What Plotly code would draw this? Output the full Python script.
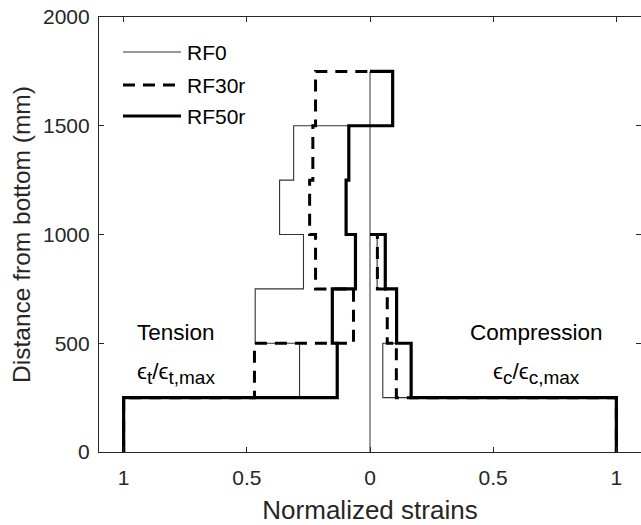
import plotly.graph_objects as go

# Band boundaries (mm from bottom)
heights = [0, 250, 500, 750, 1000, 1250, 1500, 1750]

# Normalized strains per band (bottom band first); tension negative, compression positive
rf0_tension = [-1.0, -0.286, -0.466, -0.270, -0.367, -0.310, 0.0]
rf0_compression = [1.0, 0.052, 0.108, 0.029, 0.0, 0.0, 0.0]
rf30r_tension = [-1.0, -0.469, -0.067, -0.221, -0.245, -0.232, -0.221]
rf30r_compression = [1.0, 0.107, 0.070, 0.030, 0.0, 0.0, 0.0]
rf50r_tension = [-1.0, -0.133, -0.153, -0.059, -0.097, -0.086, 0.0]
rf50r_compression = [1.0, 0.167, 0.108, 0.062, 0.0, 0.0, 0.092]

series_names = ["RF0", "RF30r", "RF50r"]
x_tickvals = [-1, -0.5, 0, 0.5, 1]
x_ticktext = ["1", "0.5", "0", "0.5", "1"]
y_tickvals = [0, 500, 1000, 1500, 2000]

FONT = "Liberation Sans, Arial, Helvetica, sans-serif"
AX = "#262626"


def profile(t, c):
    pts = []
    n = len(t)
    for i in range(n):
        pts += [(t[i], heights[i]), (t[i], heights[i + 1])]
    for i in reversed(range(n)):
        pts += [(c[i], heights[i + 1]), (c[i], heights[i])]
    xs, ys = [pts[0][0]], [pts[0][1]]
    for (x0, y0), (x1, y1) in zip(pts[:-1], pts[1:]):
        if x0 == 0 and x1 == 0 and y0 != y1:
            xs.append(None); ys.append(None)
            xs.append(x1); ys.append(y1)
        else:
            xs.append(x1); ys.append(y1)
    return xs, ys


fig = go.Figure()

styles = [
    dict(color="#333333", width=1.1, dash="solid"),
    dict(color="black", width=3, dash="12px,8px"),
    dict(color="black", width=3.2, dash="solid"),
]
data = [(rf0_tension, rf0_compression), (rf30r_tension, rf30r_compression),
        (rf50r_tension, rf50r_compression)]

# zero line belonging to RF0 outline
fig.add_trace(go.Scatter(x=[0, 0], y=[heights[0], heights[-1]], mode="lines",
                         line=dict(color="#444444", width=1.1), showlegend=False,
                         hoverinfo="skip"))

for name, (t, c), st in zip(series_names, data, styles):
    xs, ys = profile(t, c)
    fig.add_trace(go.Scatter(x=xs, y=ys, mode="lines", name=name, line=st,
                             showlegend=False, connectgaps=False))

W, H = 641, 525
L, R, T, B = 99, 0, 17, 73
pw, ph = W - L - R, H - T - B


def px(xp):
    return (xp - L) / pw


def py(yp):
    return (H - B - yp) / ph


shapes = []
annotations = []
leg_y = [52, 85, 116]
for name, st, yy in zip(series_names, styles, leg_y):
    shapes.append(dict(type="line", xref="paper", yref="paper", x0=px(123), x1=px(181),
                       y0=py(yy), y1=py(yy),
                       line=dict(color=st["color"], width=st["width"],
                                 dash=("12px,8px" if st["dash"] != "solid" else "solid"))))
    annotations.append(dict(xref="paper", yref="paper", x=px(185), y=py(yy), text=name,
                            showarrow=False, xanchor="left", yanchor="middle",
                            font=dict(family=FONT, size=21, color="black")))


def sub(s):
    return "<sub><span style='font-size:19px'>" + s + "</span></sub>"


annotations += [
    dict(x=-0.789, y=548, text="Tension", showarrow=False,
         font=dict(family=FONT, size=22.5, color="black")),
    dict(x=-0.789, y=362, text="ϵ" + sub("t") + "/ϵ" + sub("t,max"), showarrow=False,
         font=dict(family=FONT, size=22.5, color="black")),
    dict(x=0.676, y=548, text="Compression", showarrow=False,
         font=dict(family=FONT, size=22.5, color="black")),
    dict(x=0.676, y=362, text="ϵ" + sub("c") + "/ϵ" + sub("c,max"), showarrow=False,
         font=dict(family=FONT, size=22.5, color="black")),
]

fig.update_layout(
    width=W, height=H,
    margin=dict(l=L, r=R, t=T, b=B, pad=0),
    plot_bgcolor="white", paper_bgcolor="white",
    showlegend=False,
    shapes=shapes, annotations=annotations,
    font=dict(family=FONT, color=AX),
)
fig.update_xaxes(range=[-1.1, 1.1], tickvals=x_tickvals, ticktext=x_ticktext,
                 ticks="inside", ticklen=5, tickcolor=AX, tickwidth=1,
                 showline=True, linecolor=AX, linewidth=1.2, mirror="ticks",
                 showgrid=False, zeroline=False, ticklabelstandoff=7,
                 tickfont=dict(family=FONT, size=21, color=AX),
                 title=dict(text="Normalized strains", standoff=14,
                            font=dict(family=FONT, size=26, color=AX)))
fig.update_yaxes(range=[0, 2000], tickvals=y_tickvals,
                 ticks="inside", ticklen=5, tickcolor=AX, tickwidth=1,
                 showline=True, linecolor=AX, linewidth=1.2, mirror="ticks",
                 showgrid=False, zeroline=False, ticklabelstandoff=4,
                 tickfont=dict(family=FONT, size=21, color=AX),
                 title=dict(text="Distance from bottom (mm)", standoff=5,
                            font=dict(family=FONT, size=24.5, color=AX)))

fig.write_html("out.html")
